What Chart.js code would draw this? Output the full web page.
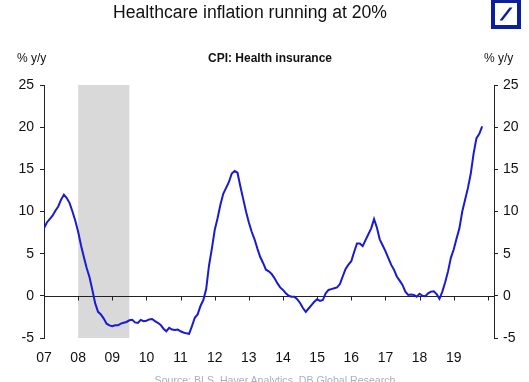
<!DOCTYPE html>
<html><head><meta charset="utf-8">
<script src="https://cdn.jsdelivr.net/npm/chart.js@4"></script>
<style>
html,body{margin:0;padding:0;background:#fff;}
#wrap{position:relative;width:529px;height:382px;overflow:hidden;font-family:"Liberation Sans",Arial,sans-serif;background:#fff;}
#c{position:absolute;left:0;top:0;}
.t{position:absolute;white-space:nowrap;line-height:1;color:#111;}
#logo{position:absolute;left:491px;top:-1px;width:30px;height:30px;}
</style></head><body>
<div id="wrap">
<canvas id="c" width="529" height="382"></canvas>
<div class="t" style="left:0;width:500px;text-align:center;top:3.5px;font-size:17.6px;">Healthcare inflation running at 20%</div>
<div class="t" style="left:17px;top:52px;font-size:12px;">% y/y</div>
<div class="t" style="left:170px;width:200px;text-align:center;top:52px;font-size:12px;font-weight:bold;">CPI: Health insurance</div>
<div class="t" style="left:484px;top:52px;font-size:12px;">% y/y</div>
<div class="t" style="left:75px;width:400px;text-align:center;top:374.5px;font-size:10.6px;color:#a3b0c4;">Source: BLS, Haver Analytics, DB Global Research</div>
<svg id="logo" viewBox="0 0 30 30"><rect x="0" y="0" width="30" height="30" fill="#0a1e9e"/><rect x="4" y="4" width="22" height="22" fill="#fff"/><polygon points="8.5,21.5 11.5,21.5 21.5,8.5 18.5,8.5" fill="#0a1e9e"/></svg>
</div>
<script>
// Monthly CPI: Health insurance, % y/y, starting Jan 2007
const startYear = 2007;
const healthInsurance = [
  // 2007
  8.0, 8.7, 9.1, 9.5, 10.1, 10.6, 11.4, 12.0, 11.6, 11.0, 10.0, 8.9,
  // 2008
  7.6, 6.0, 4.6, 3.3, 2.2, 0.7, -0.9, -1.9, -2.2, -2.7, -3.3, -3.5,
  // 2009
  -3.6, -3.5, -3.5, -3.3, -3.2, -3.1, -2.9, -2.85, -3.15, -3.2, -2.85, -3.0,
  // 2010
  -2.95, -2.8, -2.75, -3.0, -3.2, -3.45, -3.9, -4.2, -3.8, -4.0, -4.05, -4.0,
  // 2011
  -4.2, -4.35, -4.45, -4.5, -3.6, -2.6, -2.2, -1.2, -0.5, 0.8, 3.6, 5.6,
  // 2012
  7.8, 9.2, 10.8, 12.1, 12.8, 13.5, 14.5, 14.8, 14.6, 13.0, 11.5, 10.0,
  // 2013
  8.7, 7.6, 6.7, 5.6, 4.6, 3.9, 3.1, 2.9, 2.6, 2.1, 1.5, 1.0,
  // 2014
  0.7, 0.3, 0.0, -0.1, -0.1, -0.4, -0.85, -1.45, -1.9, -1.5, -1.1, -0.7,
  // 2015
  -0.4, -0.6, -0.5, 0.3, 0.7, 0.8, 0.9, 1.0, 1.4, 2.3, 3.2, 3.7,
  // 2016
  4.1, 5.2, 6.2, 6.2, 5.9, 6.6, 7.3, 8.0, 9.1, 8.1, 6.7, 6.0,
  // 2017
  5.3, 4.5, 3.7, 3.1, 2.3, 1.8, 1.3, 0.5, 0.1, 0.15, 0.1, -0.1,
  // 2018
  0.25, 0.0, -0.05, 0.3, 0.5, 0.55, 0.2, -0.35, 0.5, 1.6, 2.9, 4.5,
  // 2019
  5.5, 6.8, 8.0, 10.0, 11.4, 12.8, 14.5, 16.9, 18.7, 19.2, 20.1
];
const yearTickLabels = ['07','08','09','10','11','12','13','14','15','16','17','18','19'];
const yTicks = [-5, 0, 5, 10, 15, 20, 25];
const recessionStart = 2008.0;
const recessionEnd = 2009.5;
const xMin = 2007, xMax = 2020.18;

const points = healthInsurance.map((v, i) => ({x: startYear + i / 12, y: v}));

const decor = {
  id: 'decor',
  beforeDatasetsDraw(chart) {
    const {ctx, scales: {x, y}} = chart;
    ctx.save();
    // recession shading
    ctx.fillStyle = '#d9d9d9';
    const x0 = x.getPixelForValue(recessionStart), x1 = x.getPixelForValue(recessionEnd);
    const yt = y.getPixelForValue(25), yb = y.getPixelForValue(-5);
    ctx.fillRect(x0, yt, x1 - x0, yb - yt);
    // zero line
    const y0 = Math.round(y.getPixelForValue(0)) + 0.5;
    ctx.strokeStyle = '#222';
    ctx.lineWidth = 1;
    ctx.beginPath();
    ctx.moveTo(chart.chartArea.left, y0);
    ctx.lineTo(chart.chartArea.right, y0);
    for (let yr = xMin + 1; yr <= Math.floor(xMax); yr++) {
      const px = Math.round(x.getPixelForValue(yr)) + 0.5;
      ctx.moveTo(px, y0);
      ctx.lineTo(px, y0 + 4);
    }
    ctx.stroke();
    ctx.restore();
  }
};

const tickFont = {family: '"Liberation Sans", Arial, sans-serif', size: 14};

new Chart(document.getElementById('c'), {
  type: 'line',
  data: {
    datasets: [{
      data: points,
      borderColor: '#1a1ad2',
      borderWidth: 2,
      pointRadius: 0,
      tension: 0,
      fill: false
    }]
  },
  options: {
    responsive: false,
    animation: false,
    devicePixelRatio: 1,
    layout: {padding: {top: 85, bottom: 0, left: 0, right: 0}},
    plugins: {legend: {display: false}, tooltip: {enabled: false}},
    scales: {
      x: {
        type: 'linear', min: xMin, max: xMax,
        grid: {display: false, drawTicks: false},
        border: {display: false},
        ticks: {
          stepSize: 1, includeBounds: false, autoSkip: false, maxRotation: 0,
          padding: 12, color: '#111', font: tickFont,
          callback: (v) => {
            const idx = Math.round(v) - xMin;
            return Number.isInteger(v) && idx >= 0 && idx < yearTickLabels.length ? yearTickLabels[idx] : '';
          }
        },
        afterFit: (s) => { s.height = 44; }
      },
      y: {
        position: 'left', min: -5, max: 25,
        afterBuildTicks: (s) => { s.ticks = yTicks.map(v => ({value: v})); },
        grid: {drawOnChartArea: false, tickLength: 4, color: '#222'},
        border: {color: '#222'},
        ticks: {padding: 6, color: '#111', font: tickFont},
        afterFit: (s) => { s.width = 44; }
      },
      y1: {
        position: 'right', min: -5, max: 25,
        afterBuildTicks: (s) => { s.ticks = yTicks.map(v => ({value: v})); },
        grid: {drawOnChartArea: false, tickLength: 4, color: '#222'},
        border: {color: '#222'},
        ticks: {padding: 5, color: '#111', font: tickFont},
        afterFit: (s) => { s.width = 35; }
      }
    }
  },
  plugins: [decor]
});
</script>
</body></html>
